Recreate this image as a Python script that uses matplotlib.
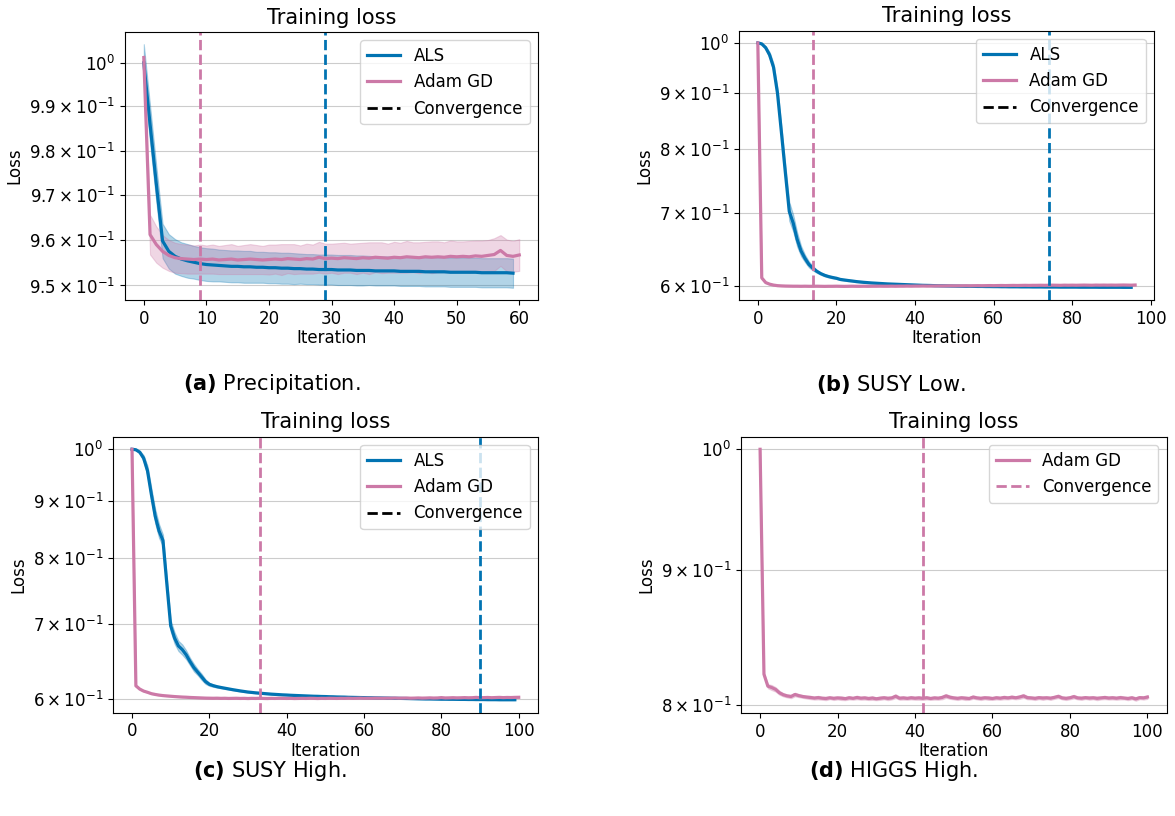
import numpy as np
import matplotlib
matplotlib.use('Agg')
import matplotlib.pyplot as plt
from matplotlib.lines import Line2D
from matplotlib.ticker import NullLocator, NullFormatter

# colours used in the paper figures
ALS_COLOR = '#0173B2'
ADAM_COLOR = '#CC79A7'

# ---------------- (a) Precipitation ----------------
als_a_mean = [1.0000, 0.9860, 0.9725, 0.9598, 0.9575, 0.9564, 0.9558, 0.9554, 0.9551, 0.9548,
              0.9546, 0.9545, 0.9544, 0.9543, 0.9542, 0.9542, 0.9541, 0.9541, 0.9540, 0.9540,
              0.9539, 0.9539, 0.9538, 0.9538, 0.9537, 0.9537, 0.9536, 0.9536, 0.9535, 0.9535,
              0.9535, 0.9534, 0.9534, 0.9534, 0.9533, 0.9533, 0.9533, 0.9532, 0.9532, 0.9532,
              0.9532, 0.9531, 0.9531, 0.9531, 0.9531, 0.9530, 0.9530, 0.9530, 0.9530, 0.9529,
              0.9529, 0.9529, 0.9529, 0.9529, 0.9528, 0.9528, 0.9528, 0.9528, 0.9528, 0.9527]
als_a_std = [0.0043, 0.0042, 0.0040, 0.0038, 0.0038, 0.0038, 0.0037, 0.0037, 0.0036, 0.0036,
             0.0036, 0.0036, 0.0035, 0.0035, 0.0035, 0.0035, 0.0035, 0.0035, 0.0034, 0.0034,
             0.0034, 0.0034, 0.0034, 0.0034, 0.0034, 0.0033, 0.0033, 0.0033, 0.0033, 0.0033,
             0.0033, 0.0033, 0.0033, 0.0033, 0.0033, 0.0033, 0.0032, 0.0032, 0.0032, 0.0032,
             0.0032, 0.0032, 0.0032, 0.0032, 0.0032, 0.0032, 0.0032, 0.0032, 0.0032, 0.0032,
             0.0032, 0.0032, 0.0032, 0.0032, 0.0032, 0.0032, 0.0032, 0.0032, 0.0032, 0.0032]
adam_a_mean = [1.0012, 0.9612, 0.9590, 0.9575, 0.9566, 0.9561, 0.9559, 0.9558, 0.9557, 0.9558,
               0.9557, 0.9558, 0.9556, 0.9557, 0.9558, 0.9556, 0.9557, 0.9558, 0.9557, 0.9556,
               0.9557, 0.9558, 0.9557, 0.9559, 0.9558, 0.9557, 0.9559, 0.9558, 0.9562, 0.9559,
               0.9560, 0.9559, 0.9561, 0.9560, 0.9559, 0.9561, 0.9560, 0.9562, 0.9561, 0.9560,
               0.9562, 0.9561, 0.9563, 0.9562, 0.9561, 0.9563, 0.9562, 0.9563, 0.9562, 0.9564,
               0.9563, 0.9564, 0.9563, 0.9565, 0.9564, 0.9566, 0.9568, 0.9577, 0.9566, 0.9564, 0.9567]
adam_a_std = [0.0006, 0.0044, 0.0040, 0.0036, 0.0034, 0.0033, 0.0032, 0.0032, 0.0031, 0.0032,
              0.0031, 0.0032, 0.0031, 0.0032, 0.0033, 0.0031, 0.0032, 0.0033, 0.0032, 0.0031,
              0.0033, 0.0032, 0.0034, 0.0032, 0.0033, 0.0031, 0.0033, 0.0032, 0.0034, 0.0033,
              0.0032, 0.0034, 0.0033, 0.0032, 0.0034, 0.0033, 0.0035, 0.0033, 0.0034, 0.0032,
              0.0034, 0.0033, 0.0035, 0.0033, 0.0034, 0.0033, 0.0035, 0.0034, 0.0033, 0.0035,
              0.0034, 0.0033, 0.0035, 0.0034, 0.0035, 0.0034, 0.0036, 0.0034, 0.0035, 0.0034, 0.0035]
conv_a = [9, 29]  # Adam GD, ALS
yticks_a = [0.95, 0.96, 0.97, 0.98, 0.99, 1.0]
ylabels_a = [r'$\mathdefault{9.5\times10^{-1}}$', r'$\mathdefault{9.6\times10^{-1}}$',
             r'$\mathdefault{9.7\times10^{-1}}$', r'$\mathdefault{9.8\times10^{-1}}$',
             r'$\mathdefault{9.9\times10^{-1}}$', r'$\mathdefault{10^{0}}$']

# ---------------- (b) SUSY Low ----------------
als_b_mean = [1.000, 0.998, 0.990, 0.975, 0.950, 0.900, 0.829, 0.762, 0.702, 0.685,
              0.662, 0.646, 0.636, 0.628, 0.623, 0.619, 0.616, 0.6138, 0.6122, 0.6110,
              0.6100, 0.6085, 0.6078, 0.6071, 0.6065, 0.6058, 0.6053, 0.6048, 0.6044, 0.6040,
              0.6037, 0.6034, 0.6031, 0.6028, 0.6026, 0.6024, 0.6022, 0.6020, 0.6018, 0.6016,
              0.6014, 0.6012, 0.6010, 0.6009, 0.6008, 0.6006, 0.6005, 0.6004, 0.6003, 0.6002,
              0.6001, 0.6000, 0.5999, 0.5998, 0.5998, 0.5997, 0.5996, 0.5996, 0.5995, 0.5995,
              0.5994, 0.5994, 0.5993, 0.5993, 0.5992, 0.5992, 0.5992, 0.5991, 0.5991, 0.5991,
              0.5990, 0.5990, 0.5990, 0.5989, 0.5989, 0.5989, 0.5989, 0.5988, 0.5988, 0.5988,
              0.5988, 0.5988, 0.5987, 0.5987, 0.5987, 0.5987, 0.5987, 0.5986, 0.5986, 0.5986,
              0.5986, 0.5986, 0.5986, 0.5985, 0.5985, 0.5985]
als_b_std = [0.0000, 0.0010, 0.0030, 0.0060, 0.0080, 0.0100, 0.0100, 0.0120, 0.0140, 0.0120,
             0.0100, 0.0070, 0.0050, 0.0040, 0.0030, 0.0020, 0.0015, 0.0015, 0.0012, 0.0012,
             0.0010, 0.0010, 0.0009, 0.0009, 0.0008, 0.0008, 0.0008, 0.0007, 0.0007, 0.0007,
             0.0006, 0.0006, 0.0006, 0.0006, 0.0006, 0.0006, 0.0006, 0.0006, 0.0006, 0.0006,
             0.0006, 0.0006, 0.0006, 0.0006, 0.0006, 0.0006, 0.0006, 0.0006, 0.0006, 0.0006,
             0.0006, 0.0006, 0.0006, 0.0006, 0.0006, 0.0006, 0.0006, 0.0006, 0.0006, 0.0006,
             0.0005, 0.0005, 0.0005, 0.0005, 0.0005, 0.0005, 0.0005, 0.0005, 0.0005, 0.0005,
             0.0005, 0.0005, 0.0005, 0.0005, 0.0005, 0.0005, 0.0005, 0.0005, 0.0005, 0.0005,
             0.0005, 0.0005, 0.0005, 0.0005, 0.0005, 0.0005, 0.0005, 0.0005, 0.0005, 0.0005,
             0.0005, 0.0005, 0.0005, 0.0005, 0.0005, 0.0005]
adam_b_mean = [1.0000, 0.6105, 0.6045, 0.6025, 0.6013, 0.6006, 0.6003, 0.6001, 0.6000, 0.5999, 0.5999,
               0.5998, 0.5999, 0.5998, 0.5998, 0.5999, 0.5998, 0.5997, 0.5998, 0.5998, 0.5999,
               0.5998, 0.5997, 0.5998, 0.5999, 0.5998, 0.5998, 0.5999, 0.5998, 0.5999, 0.5999,
               0.6000, 0.5999, 0.5999, 0.6000, 0.5999, 0.6000, 0.6000, 0.6001, 0.6000, 0.6001,
               0.6001, 0.6002, 0.6001, 0.6002, 0.6002, 0.6003, 0.6002, 0.6003, 0.6004, 0.6003,
               0.6004, 0.6004, 0.6005, 0.6004, 0.6005, 0.6006, 0.6005, 0.6006, 0.6007, 0.6006,
               0.6007, 0.6008, 0.6007, 0.6008, 0.6009, 0.6008, 0.6009, 0.6010, 0.6009, 0.6010,
               0.6010, 0.6011, 0.6010, 0.6011, 0.6012, 0.6011, 0.6010, 0.6012, 0.6011, 0.6012,
               0.6011, 0.6012, 0.6013, 0.6012, 0.6011, 0.6013, 0.6012, 0.6013, 0.6012, 0.6013,
               0.6012, 0.6013, 0.6014, 0.6013, 0.6012, 0.6014]
adam_b_std = [0.0000, 0.0008, 0.0006, 0.0005, 0.0005, 0.0004, 0.0004, 0.0004, 0.0004, 0.0004, 0.0004,
              0.0004, 0.0004, 0.0004, 0.0004, 0.0004, 0.0004, 0.0004, 0.0004, 0.0004, 0.0004,
              0.0004, 0.0004, 0.0004, 0.0004, 0.0004, 0.0004, 0.0004, 0.0004, 0.0004, 0.0004,
              0.0004, 0.0004, 0.0004, 0.0004, 0.0004, 0.0004, 0.0004, 0.0004, 0.0004, 0.0004,
              0.0004, 0.0004, 0.0004, 0.0004, 0.0004, 0.0004, 0.0004, 0.0004, 0.0004, 0.0004,
              0.0005, 0.0004, 0.0005, 0.0004, 0.0005, 0.0004, 0.0005, 0.0004, 0.0005, 0.0004,
              0.0005, 0.0004, 0.0005, 0.0004, 0.0005, 0.0004, 0.0005, 0.0004, 0.0005, 0.0004,
              0.0005, 0.0004, 0.0005, 0.0004, 0.0005, 0.0004, 0.0005, 0.0004, 0.0005, 0.0004,
              0.0005, 0.0004, 0.0005, 0.0004, 0.0005, 0.0004, 0.0005, 0.0004, 0.0005, 0.0004,
              0.0005, 0.0004, 0.0005, 0.0004, 0.0005, 0.0004]
conv_b = [14, 74]

# ---------------- (c) SUSY High ----------------
als_c_mean = [1.0, 0.999, 0.994, 0.982, 0.957, 0.912, 0.872, 0.846, 0.830, 0.760, 0.697,
              0.680, 0.669, 0.664, 0.657, 0.648, 0.640, 0.634, 0.628, 0.622, 0.6185,
              0.6168, 0.6155, 0.6145, 0.6136, 0.6127, 0.6118, 0.6110, 0.6102, 0.6095, 0.6088,
              0.6083, 0.6078, 0.6074, 0.6070, 0.6066, 0.6062, 0.6059, 0.6056, 0.6053, 0.6051,
              0.6048, 0.6046, 0.6044, 0.6042, 0.6040, 0.6038, 0.6036, 0.6035, 0.6033, 0.6032,
              0.6030, 0.6029, 0.6027, 0.6026, 0.6025, 0.6023, 0.6022, 0.6021, 0.6020, 0.6019,
              0.6018, 0.6017, 0.6016, 0.6015, 0.6014, 0.6013, 0.6012, 0.6011, 0.6010, 0.6009,
              0.6008, 0.6007, 0.6006, 0.6005, 0.6004, 0.6003, 0.6003, 0.6002, 0.6001, 0.6000,
              0.6000, 0.5999, 0.5999, 0.5998, 0.5997, 0.5997, 0.5996, 0.5996, 0.5995, 0.5995,
              0.5995, 0.5994, 0.5994, 0.5994, 0.5993, 0.5993, 0.5993, 0.5993, 0.5993]
als_c_std = [0.0000, 0.0010, 0.0030, 0.0060, 0.0100, 0.0120, 0.0130, 0.0120, 0.0100, 0.0090,
             0.0080, 0.0080, 0.0070, 0.0070, 0.0060, 0.0050, 0.0050, 0.0040, 0.0040, 0.0030,
             0.0020, 0.0015, 0.0012, 0.0010, 0.0010, 0.0009, 0.0008, 0.0008, 0.0007, 0.0007,
             0.0006, 0.0006, 0.0006, 0.0006, 0.0006, 0.0006, 0.0006, 0.0006, 0.0006, 0.0006,
             0.0006, 0.0006, 0.0006, 0.0006, 0.0006, 0.0006, 0.0006, 0.0006, 0.0006, 0.0006,
             0.0006, 0.0006, 0.0006, 0.0006, 0.0006, 0.0006, 0.0006, 0.0006, 0.0006, 0.0006,
             0.0005, 0.0005, 0.0005, 0.0005, 0.0005, 0.0005, 0.0005, 0.0005, 0.0005, 0.0005,
             0.0005, 0.0005, 0.0005, 0.0005, 0.0005, 0.0005, 0.0005, 0.0005, 0.0005, 0.0005,
             0.0005, 0.0005, 0.0005, 0.0005, 0.0005, 0.0005, 0.0005, 0.0005, 0.0005, 0.0005,
             0.0005, 0.0005, 0.0005, 0.0005, 0.0005, 0.0005, 0.0005, 0.0005, 0.0005, 0.0005]
adam_c_mean = [1.0000, 0.6166, 0.6125, 0.6100, 0.6085, 0.6068, 0.6058, 0.6050, 0.6044, 0.6040, 0.6036,
               0.6032, 0.6029, 0.6026, 0.6024, 0.6021, 0.6019, 0.6017, 0.6015, 0.6013, 0.6012,
               0.6011, 0.6012, 0.6010, 0.6011, 0.6009, 0.6010, 0.6011, 0.6009, 0.6010, 0.6008,
               0.6010, 0.6009, 0.6011, 0.6009, 0.6008, 0.6010, 0.6009, 0.6011, 0.6010, 0.6009,
               0.6010, 0.6008, 0.6009, 0.6010, 0.6009, 0.6011, 0.6010, 0.6008, 0.6010, 0.6009,
               0.6011, 0.6010, 0.6009, 0.6011, 0.6010, 0.6012, 0.6010, 0.6011, 0.6013, 0.6011,
               0.6012, 0.6011, 0.6013, 0.6012, 0.6011, 0.6013, 0.6012, 0.6014, 0.6012, 0.6013,
               0.6014, 0.6012, 0.6013, 0.6015, 0.6013, 0.6014, 0.6016, 0.6014, 0.6015, 0.6019,
               0.6015, 0.6016, 0.6018, 0.6016, 0.6017, 0.6019, 0.6017, 0.6018, 0.6022, 0.6018,
               0.6019, 0.6021, 0.6018, 0.6020, 0.6022, 0.6019, 0.6021, 0.6020, 0.6022, 0.6023]
adam_c_std = [0.0000, 0.0008, 0.0006, 0.0005, 0.0005, 0.0005, 0.0004, 0.0004, 0.0004, 0.0004, 0.0004,
              0.0004, 0.0004, 0.0004, 0.0004, 0.0004, 0.0004, 0.0005, 0.0004, 0.0005, 0.0004,
              0.0005, 0.0004, 0.0005, 0.0004, 0.0005, 0.0004, 0.0005, 0.0004, 0.0005, 0.0004,
              0.0005, 0.0004, 0.0005, 0.0004, 0.0005, 0.0004, 0.0005, 0.0004, 0.0005, 0.0004,
              0.0005, 0.0004, 0.0005, 0.0004, 0.0005, 0.0004, 0.0005, 0.0004, 0.0005, 0.0004,
              0.0005, 0.0004, 0.0005, 0.0004, 0.0005, 0.0004, 0.0005, 0.0004, 0.0005, 0.0004,
              0.0005, 0.0006, 0.0005, 0.0004, 0.0005, 0.0006, 0.0005, 0.0004, 0.0005, 0.0006,
              0.0005, 0.0004, 0.0005, 0.0006, 0.0005, 0.0004, 0.0005, 0.0006, 0.0005, 0.0006,
              0.0005, 0.0004, 0.0005, 0.0006, 0.0005, 0.0004, 0.0005, 0.0006, 0.0005, 0.0006,
              0.0005, 0.0004, 0.0005, 0.0006, 0.0005, 0.0004, 0.0005, 0.0006, 0.0005, 0.0006]
conv_c = [33, 90]

# ---------------- (d) HIGGS High ----------------
adam_d_mean = [1.0000, 0.8220, 0.8135, 0.8125, 0.8112, 0.8088, 0.8074, 0.8066, 0.8062, 0.8076, 0.8068,
               0.8062, 0.8058, 0.8055, 0.8051, 0.8054, 0.8050, 0.8048, 0.8053, 0.8049, 0.8052,
               0.8050, 0.8047, 0.8053, 0.8049, 0.8055, 0.8050, 0.8052, 0.8048, 0.8051, 0.8046,
               0.8050, 0.8053, 0.8049, 0.8052, 0.8064, 0.8050, 0.8052, 0.8049, 0.8053, 0.8050,
               0.8052, 0.8049, 0.8053, 0.8048, 0.8052, 0.8050, 0.8055, 0.8066, 0.8057, 0.8052,
               0.8049, 0.8053, 0.8050, 0.8048, 0.8058, 0.8052, 0.8049, 0.8053, 0.8051, 0.8048,
               0.8053, 0.8050, 0.8055, 0.8052, 0.8057, 0.8053, 0.8058, 0.8066, 0.8054, 0.8052,
               0.8049, 0.8054, 0.8051, 0.8053, 0.8050, 0.8056, 0.8063, 0.8052, 0.8049, 0.8053,
               0.8061, 0.8052, 0.8050, 0.8054, 0.8051, 0.8053, 0.8049, 0.8052, 0.8055, 0.8051,
               0.8053, 0.8050, 0.8054, 0.8051, 0.8048, 0.8053, 0.8045, 0.8054, 0.8052, 0.8058]
adam_d_std = [0.0000, 0.0012, 0.0015, 0.0018, 0.0016, 0.0014, 0.0012, 0.0011, 0.0012, 0.0013, 0.0011,
              0.0010, 0.0011, 0.0012, 0.0011, 0.0013, 0.0011, 0.0012, 0.0010, 0.0012, 0.0011,
              0.0013, 0.0011, 0.0012, 0.0010, 0.0013, 0.0011, 0.0012, 0.0011, 0.0013, 0.0010,
              0.0012, 0.0011, 0.0013, 0.0011, 0.0014, 0.0011, 0.0012, 0.0010, 0.0012, 0.0011,
              0.0013, 0.0011, 0.0012, 0.0010, 0.0012, 0.0011, 0.0013, 0.0014, 0.0012, 0.0011,
              0.0012, 0.0011, 0.0013, 0.0010, 0.0012, 0.0011, 0.0012, 0.0011, 0.0013, 0.0010,
              0.0012, 0.0011, 0.0013, 0.0011, 0.0012, 0.0011, 0.0013, 0.0014, 0.0012, 0.0011,
              0.0012, 0.0011, 0.0013, 0.0010, 0.0012, 0.0011, 0.0013, 0.0011, 0.0012, 0.0011,
              0.0013, 0.0011, 0.0012, 0.0010, 0.0012, 0.0011, 0.0013, 0.0011, 0.0012, 0.0011,
              0.0012, 0.0011, 0.0013, 0.0010, 0.0012, 0.0011, 0.0013, 0.0011, 0.0012, 0.0013]
conv_d = [42]

yticks_bc = [0.6, 0.7, 0.8, 0.9, 1.0]
ylabels_bc = [r'$\mathdefault{6\times10^{-1}}$', r'$\mathdefault{7\times10^{-1}}$',
              r'$\mathdefault{8\times10^{-1}}$', r'$\mathdefault{9\times10^{-1}}$',
              r'$\mathdefault{10^{0}}$']
yticks_d = [0.8, 0.9, 1.0]
ylabels_d = [r'$\mathdefault{8\times10^{-1}}$', r'$\mathdefault{9\times10^{-1}}$',
             r'$\mathdefault{10^{0}}$']

captions = [r'$\mathbf{(a)}$ Precipitation.', r'$\mathbf{(b)}$ SUSY Low.',
            r'$\mathbf{(c)}$ SUSY High.', r'$\mathbf{(d)}$ HIGGS High.']


def draw_curve(ax, mean, std, color):
    # mean line plus a +/- std band
    x = np.arange(len(mean))
    m = np.array(mean)
    s = np.array(std)
    ax.fill_between(x, m - s, m + s, color=color, alpha=0.3, lw=0.8)
    ax.plot(x, m, color=color, lw=2.3)


def finish_axes(ax, yticks, ylabels):
    ax.set_yscale('log')
    ax.set_yticks(yticks, labels=ylabels)
    ax.yaxis.set_minor_locator(NullLocator())
    ax.yaxis.set_minor_formatter(NullFormatter())
    ax.grid(axis='y', color='#cccccc', lw=0.8)
    ax.set_axisbelow(True)
    ax.tick_params(labelsize=12)
    ax.set_title('Training loss', fontsize=15)
    ax.set_xlabel('Iteration', fontsize=12, labelpad=1)
    ax.set_ylabel('Loss', fontsize=12)


fig = plt.figure(figsize=(11.75, 8.16), dpi=100)
ax_a = fig.add_axes([0.1064, 0.6324, 0.3515, 0.3284])
ax_b = fig.add_axes([0.6289, 0.6324, 0.3532, 0.3300])
ax_c = fig.add_axes([0.0959, 0.1266, 0.3620, 0.3382])
ax_d = fig.add_axes([0.6304, 0.1258, 0.3626, 0.3390])

handles3 = [Line2D([], [], color=ALS_COLOR, lw=2.3, label='ALS'),
            Line2D([], [], color=ADAM_COLOR, lw=2.3, label='Adam GD'),
            Line2D([], [], color='black', lw=2, ls='--', label='Convergence')]

panels = [(ax_a, als_a_mean, als_a_std, adam_a_mean, adam_a_std, conv_a, yticks_a, ylabels_a),
          (ax_b, als_b_mean, als_b_std, adam_b_mean, adam_b_std, conv_b, yticks_bc, ylabels_bc),
          (ax_c, als_c_mean, als_c_std, adam_c_mean, adam_c_std, conv_c, yticks_bc, ylabels_bc)]

for ax, am, asd, dm, dsd, conv, yt, yl in panels:
    draw_curve(ax, am, asd, ALS_COLOR)
    draw_curve(ax, dm, dsd, ADAM_COLOR)
    ax.axvline(conv[0], color=ADAM_COLOR, ls='--', lw=2)
    ax.axvline(conv[1], color=ALS_COLOR, ls='--', lw=2)
    finish_axes(ax, yt, yl)
    ax.legend(handles=handles3, loc='upper right', fontsize=12)

# HIGGS only has the Adam run
draw_curve(ax_d, adam_d_mean, adam_d_std, ADAM_COLOR)
ax_d.axvline(conv_d[0], color=ADAM_COLOR, ls='--', lw=2)
finish_axes(ax_d, yticks_d, ylabels_d)
ax_d.legend(handles=[Line2D([], [], color=ADAM_COLOR, lw=2.3, label='Adam GD'),
                     Line2D([], [], color=ADAM_COLOR, lw=2, ls='--', label='Convergence')],
            loc='upper right', fontsize=12)

# sub-figure captions
cap_pos = [(272, 384), (891, 384), (270, 771), (894, 771)]
for (px, py), cap in zip(cap_pos, captions):
    fig.text(px / 1175, 1 - py / 816, cap, ha='center', va='center', fontsize=15)

fig.savefig('out.png', dpi=100)
